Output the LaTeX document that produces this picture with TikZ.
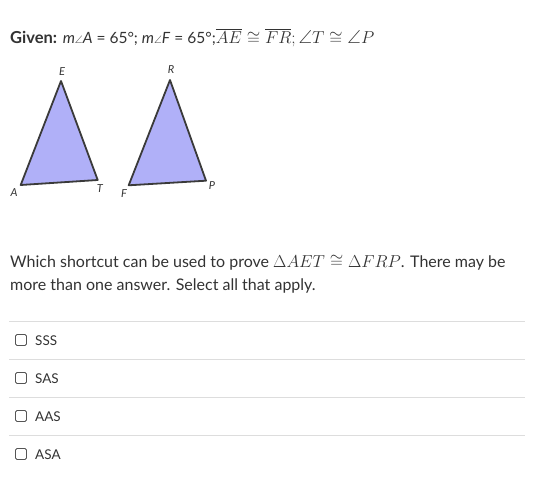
\documentclass[tikz,border=0pt]{standalone}
\usepackage[no-math]{fontspec}
\setmainfont{Lato}
\usepackage{amssymb}
\definecolor{txt}{HTML}{333333}
\definecolor{trifill}{HTML}{B0B0F8}
\definecolor{triedge}{HTML}{3A3A3A}
\definecolor{rule}{HTML}{DDDDDD}
\definecolor{boxc}{HTML}{555555}
\begin{document}
\begin{tikzpicture}[x=1pt,y=-1pt,
  tri/.style={fill=trifill,draw=triedge,line width=1.8pt,line join=round},
  vlab/.style={font=\fontsize{11}{11}\selectfont\itshape,text=txt,inner sep=0pt},
  body/.style={font=\fontsize{16}{16}\selectfont,text=txt,inner sep=0pt,anchor=base west},
  sep/.style={draw=rule,line width=0.8pt},
  cbox/.style={draw=boxc,line width=0.8pt,rounded corners=1.5pt,minimum size=11pt,inner sep=0pt},
  opt/.style={font=\fontsize{13.5}{13.5}\selectfont,text=txt,inner sep=0pt,anchor=base west}]
\useasboundingbox (0,0) rectangle (536,479);
\fill[white] (0,0) rectangle (536,479);
% given line
\node[body,font=\fontsize{16.5}{16.5}\selectfont] (given) at (10,43.5) {\textbf{Given:} \fontsize{15.5}{15.5}\selectfont\textit{m}$\scriptstyle\angle$\textit{A} = 65°; \textit{m}$\scriptstyle\angle$\textit{F} = 65°;\fontsize{18.8}{18.8}\selectfont$\overline{AE}\cong\overline{FR}; \angle T\cong\angle P$};
% triangles
\coordinate (A) at (20.7,185);
\coordinate (E) at (61,81);
\coordinate (T) at (97.7,180);
\coordinate (F) at (128.7,185.3);
\coordinate (R) at (170,80);
\coordinate (P) at (206,180.7);
\draw[tri] (A) -- (E) -- (T) -- cycle;
\draw[tri] (F) -- (R) -- (P) -- cycle;
\node[vlab] (lE) at (62,72) {E};
\node[vlab] (lA) at (14,193) {A};
\node[vlab] (lT) at (100,189) {T};
\node[vlab] (lF) at (124,193.5) {F};
\node[vlab] (lR) at (171,70) {R};
\node[vlab] (lP) at (212,186) {P};
% question
\node[body] (q1) at (10,267) {Which shortcut can be used to prove \fontsize{18.5}{18.5}\selectfont$\Delta AET\cong\Delta FRP$\fontsize{16}{16}\selectfont. There may be};
\node[body] (q2) at (10,290) {more than one answer. Select all that apply.};
% options
\foreach \y/\n in {321/s1,359/s2,397/s3,435/s4}{
  \draw[sep] (9,\y) -- (525,\y);
}
\foreach \y/\t/\n in {340/SSS/o1,378/SAS/o2,416/AAS/o3,454/ASA/o4}{
  \node[cbox] (\n box) at (21,\y) {};
  \node[opt] (\n) at (35,\y+5) {\t};
}
\end{tikzpicture}
\end{document}
